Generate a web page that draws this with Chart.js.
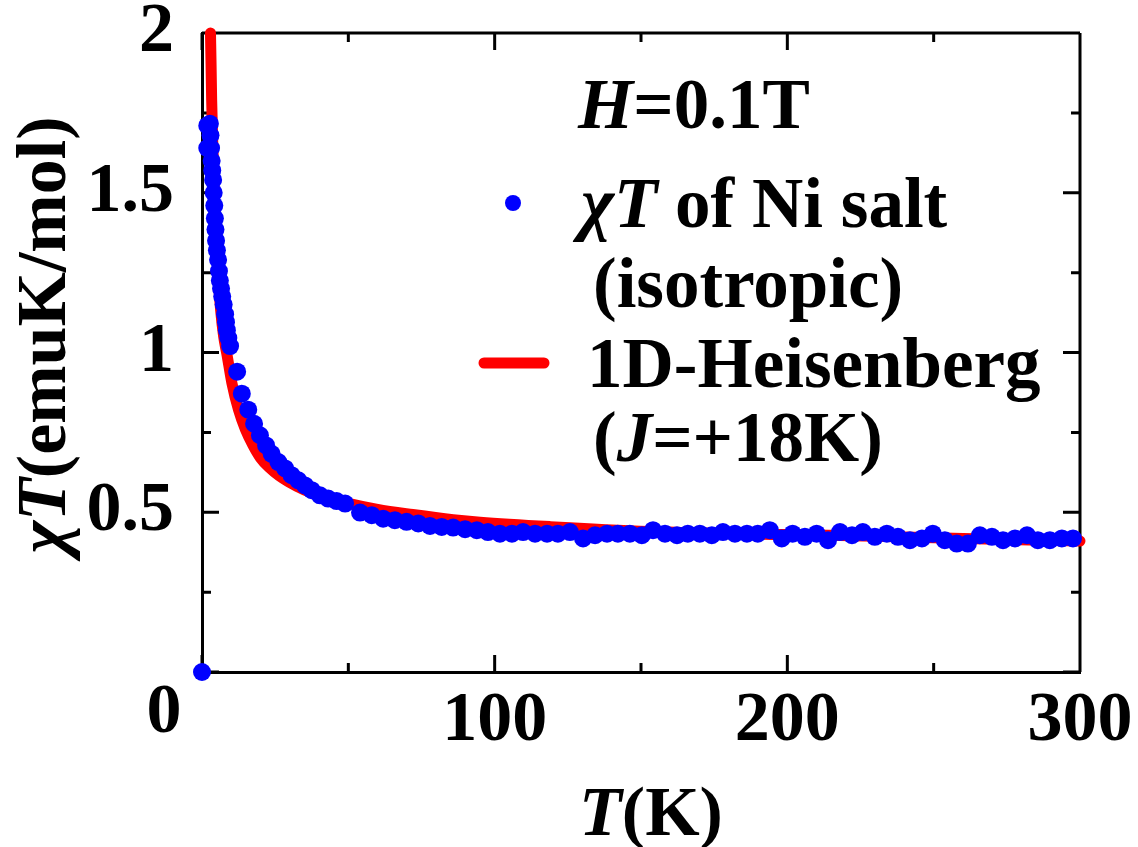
<!DOCTYPE html>
<html>
<head>
<meta charset="utf-8">
<script src="https://cdn.jsdelivr.net/npm/chart.js@4"></script>
<style>
  html, body { margin: 0; padding: 0; background: #fff; }
</style>
</head>
<body>
<canvas id="chiT" width="1138" height="847"></canvas>
<script>
// measured chi*T of the Ni salt (blue dots)
const tempK = [0, 1.8, 1.8, 2.7, 2.9, 3.1, 3.3, 3.5, 3.8, 4.0, 4.2, 4.4, 4.6, 4.8, 5.1, 5.5, 5.8, 6.1, 6.5, 6.9, 7.4, 7.9, 8.2, 8.5, 9.0, 9.6,
  12.0, 13.6, 15.8, 17.8, 19.8, 21.9, 23.8, 26.1, 28.4, 30.6, 32.9, 35.2, 37.5, 40.3, 43.1, 46.0, 48.9,
  54.0, 58.0, 61.9, 65.9, 69.9, 73.9, 77.9, 81.9, 85.8,
  89.9, 93.9, 97.7, 101.8, 105.9, 109.7, 113.8, 117.9, 121.6, 125.7, 130.2, 134.3, 138.4, 142.1, 146.2, 150.3, 154.1, 158.2, 162.3, 166.0, 170.1, 174.2, 178.0, 182.1, 186.2, 189.9, 194.0, 198.1, 201.8,
  206.0, 210.0, 213.9, 218.0, 222.1, 225.8, 229.9, 234.0, 237.8, 241.9, 246.0, 249.7, 253.8, 257.9, 261.7, 265.8, 269.9, 273.7, 277.8, 281.9, 285.6, 289.7, 293.8, 297.6];
const chiT = [0, 1.71, 1.64, 1.716, 1.68, 1.64, 1.60, 1.57, 1.54, 1.50, 1.46, 1.42, 1.385, 1.35, 1.32, 1.29, 1.255, 1.225, 1.20, 1.175, 1.15, 1.12, 1.095, 1.07, 1.045, 1.02,
  0.94, 0.871, 0.821, 0.777, 0.741, 0.709, 0.683, 0.657, 0.637, 0.616, 0.600, 0.584, 0.569, 0.553, 0.543, 0.535, 0.527,
  0.499, 0.491, 0.480, 0.475, 0.470, 0.465, 0.457, 0.454, 0.452,
  0.447, 0.444, 0.438, 0.433, 0.433, 0.438, 0.433, 0.433, 0.433, 0.438, 0.418, 0.428, 0.433, 0.433, 0.433, 0.428, 0.444, 0.433, 0.428, 0.433, 0.433, 0.428, 0.438, 0.433, 0.433, 0.433, 0.444, 0.418, 0.433,
  0.423, 0.433, 0.4125, 0.438, 0.428, 0.438, 0.423, 0.433, 0.423, 0.4125, 0.418, 0.433, 0.4125, 0.402, 0.402, 0.428, 0.423, 0.4125, 0.418, 0.428, 0.4125, 0.4125, 0.418, 0.418];

// 1D Heisenberg fit, J = +18K (red line)
const fitT = [2.9, 3.1, 3.3, 3.7, 4.2, 4.8, 5.5, 6.4, 7.4, 8.6, 10.2, 12.5, 14.8, 17.4, 20.0, 23.0, 26.3, 29.7, 35.0, 40.0, 45.0, 50.0, 60.0, 72.0, 85.8, 95.0, 119.0, 153.0, 200.0, 230.0, 260.0, 300.0];
const fitChiT = [2.0, 1.9, 1.79, 1.65, 1.5, 1.36, 1.24, 1.13, 1.05, 0.99, 0.905, 0.82, 0.76, 0.71, 0.67, 0.64, 0.615, 0.595, 0.57, 0.553, 0.54, 0.528, 0.509, 0.493, 0.477, 0.469, 0.455, 0.44, 0.43, 0.425, 0.418, 0.41];

const xTicks = [0, 100, 200, 300];
const yTicks = [0.5, 1, 1.5, 2];

const FAMILY = "'Liberation Serif', 'Times New Roman', serif";
function font(size, italic) {
  return (italic ? "italic " : "") + "bold " + size + "px " + FAMILY;
}

// draw a line of text made of plain / italic pieces
function drawRuns(ctx, parts, x, y, size, align) {
  const widths = parts.map(p => { ctx.font = font(size, p[1]); return ctx.measureText(p[0]).width; });
  const total = widths.reduce((s, w) => s + w, 0);
  let cx = align === "center" ? x - total / 2 : x;
  parts.forEach((p, i) => {
    ctx.font = font(size, p[1]);
    ctx.fillText(p[0], cx, y);
    cx += widths[i];
  });
}

const frame = {
  id: "frame",
  beforeDatasetsDraw(chart) {
    const { ctx, chartArea: a, scales: { x, y } } = chart;
    ctx.save();
    ctx.strokeStyle = "#000";
    ctx.lineWidth = 3;
    ctx.beginPath();
    ctx.moveTo(a.left, a.top); ctx.lineTo(a.right, a.top);
    ctx.moveTo(a.right, a.top); ctx.lineTo(a.right, a.bottom);
    const xt = [];
    xTicks.forEach((v, i) => {
      xt.push([v, 17]);
      if (i < xTicks.length - 1) xt.push([(v + xTicks[i + 1]) / 2, 9]);
    });
    xt.forEach(([v, len]) => {
      const px = x.getPixelForValue(v);
      ctx.moveTo(px, a.bottom); ctx.lineTo(px, a.bottom - len);
      ctx.moveTo(px, a.top); ctx.lineTo(px, a.top + len);
    });
    const yAll = [0].concat(yTicks);
    const yt = [];
    yAll.forEach((v, i) => {
      yt.push([v, 17]);
      if (i < yAll.length - 1) yt.push([(v + yAll[i + 1]) / 2, 9]);
    });
    yt.forEach(([v, len]) => {
      const py = y.getPixelForValue(v);
      ctx.moveTo(a.left, py); ctx.lineTo(a.left + len, py);
      ctx.moveTo(a.right, py); ctx.lineTo(a.right - len, py);
    });
    ctx.stroke();
    ctx.restore();
  },
  afterDraw(chart) {
    const { ctx, chartArea: a, scales: { x } } = chart;
    ctx.save();
    ctx.fillStyle = "#000";

    // the "0" label on the T axis sits left of the corner
    ctx.textAlign = "center";
    ctx.textBaseline = "middle";
    ctx.font = font(70, false);
    ctx.fillText("0", x.getPixelForValue(0) - 38, a.bottom + 42);
    ctx.textAlign = "left";
    ctx.textBaseline = "alphabetic";

    // axis titles
    drawRuns(ctx, [["T", true], ["(K)", false]], 651, 835, 70, "center");
    ctx.save();
    ctx.translate(65, 335);
    ctx.rotate(-Math.PI / 2);
    drawRuns(ctx, [["\u03C7T", true], ["(emuK/mol)", false]], 0, 0, 70, "center");
    ctx.restore();

    // legend
    const dots = chart.data.datasets[0];
    const fit = chart.data.datasets[1];
    drawRuns(ctx, [["H", true], ["=0.1T", false]], 578, 128, 71);
    ctx.fillStyle = dots.backgroundColor;
    ctx.beginPath();
    ctx.arc(513, 203, 8, 0, Math.PI * 2);
    ctx.fill();
    ctx.fillStyle = "#000";
    drawRuns(ctx, [["\u03C7T", true], [" of Ni salt", false]], 581, 227, 71);
    drawRuns(ctx, [["(isotropic)", false]], 593, 307, 71);
    ctx.strokeStyle = fit.borderColor;
    ctx.lineWidth = fit.borderWidth;
    ctx.lineCap = "round";
    ctx.beginPath();
    ctx.moveTo(484, 363); ctx.lineTo(544, 363);
    ctx.stroke();
    drawRuns(ctx, [["1D-Heisenberg", false]], 587, 387, 71);
    drawRuns(ctx, [["(", false], ["J", true], ["=+18K)", false]], 593, 461, 71);
    ctx.restore();
  }
};

const ctx = document.getElementById("chiT").getContext("2d");
const chart = new Chart(ctx, {
  type: "scatter",
  data: {
    datasets: [
      {
        label: "chiT of Ni salt (isotropic)",
        data: tempK.map((t, i) => ({ x: t, y: chiT[i] })),
        backgroundColor: "#0000ff",
        borderWidth: 0,
        pointRadius: 9,
        pointHoverRadius: 9,
        clip: false,
        order: 0,
      },
      {
        label: "1D-Heisenberg (J=+18K)",
        data: fitT.map((t, i) => ({ x: t, y: fitChiT[i] })),
        showLine: true,
        borderColor: "#ff0000",
        borderWidth: 11,
        borderCapStyle: "round",
        borderJoinStyle: "round",
        cubicInterpolationMode: "monotone",
        pointRadius: 0,
        clip: false,
        order: 1,
      },
    ],
  },
  options: {
    responsive: false,
    animation: false,
    layout: { padding: { left: 0, right: 58, top: 33, bottom: 0 } },
    plugins: {
      legend: { display: false },
      tooltip: { enabled: false },
    },
    scales: {
      x: {
        type: "linear",
        min: 0,
        max: 300,
        afterBuildTicks: (s) => { s.ticks = xTicks.map(v => ({ value: v })); },
        afterFit: (s) => { s.height = 175; s.paddingLeft = 0; s.paddingRight = 0; },
        grid: { display: false },
        border: { display: true, color: "#000", width: 3 },
        ticks: {
          color: "#000",
          padding: 0,
          maxRotation: 0,
          font: { family: FAMILY, size: 70, weight: "bold" },
          callback: (v) => (v === 0 ? "" : String(v)),
        },
      },
      y: {
        type: "linear",
        min: 0,
        max: 2,
        afterBuildTicks: (s) => { s.ticks = [0].concat(yTicks).map(v => ({ value: v })); },
        afterFit: (s) => { s.width = 202; s.paddingTop = 0; s.paddingBottom = 0; },
        grid: { display: false },
        border: { display: true, color: "#000", width: 3 },
        ticks: {
          color: "#000",
          padding: 20,
          font: { family: FAMILY, size: 70, weight: "bold" },
          callback: (v) => (v === 0 ? "" : String(v)),
        },
      },
    },
  },
  plugins: [frame],
});
</script>
</body>
</html>
